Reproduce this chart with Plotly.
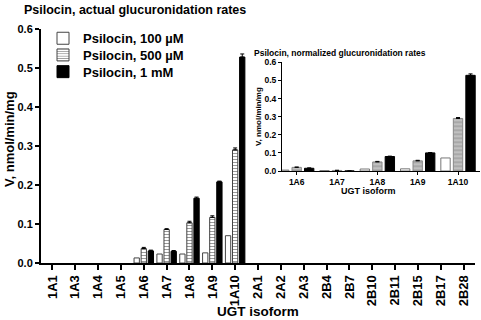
import plotly.graph_objects as go

isoforms = ["1A1", "1A3", "1A4", "1A5", "1A6", "1A7", "1A8", "1A9", "1A10", "2A1", "2A2",
            "2A3", "2B4", "2B7", "2B10", "2B11", "2B15", "2B17", "2B28"]
# None = no measurable activity (no bar drawn)
v100 = [None, None, None, None, 0.013, 0.023, 0.023, 0.026, 0.070, None, None, None, None, None, None, None, None, None, None]
v500 = [None, None, None, None, 0.037, 0.086, 0.103, 0.117, 0.290, None, None, None, None, None, None, None, None, None, None]
v1mM = [None, None, None, None, 0.031, 0.030, 0.166, 0.208, 0.528, None, None, None, None, None, None, None, None, None, None]
e500 = [0, 0, 0, 0, 0.003, 0.002, 0.004, 0.004, 0.005, 0, 0, 0, 0, 0, 0, 0, 0, 0, 0]
e1mM = [0, 0, 0, 0, 0.002, 0.002, 0.003, 0.002, 0.008, 0, 0, 0, 0, 0, 0, 0, 0, 0, 0]

inset_isoforms = ["1A6", "1A7", "1A8", "1A9", "1A10"]
n100 = [0.005, 0.002, 0.011, 0.012, 0.072]
n500 = [0.020, 0.003, 0.050, 0.056, 0.290]
n1mM = [0.015, 0.0, 0.080, 0.100, 0.528]
ne500 = [0.002, 0.001, 0.003, 0.003, 0.005]
ne1mM = [0.002, 0.0, 0.002, 0.002, 0.008]

names = ["Psilocin, 100 \u00b5M", "Psilocin, 500 \u00b5M", "Psilocin, 1 mM"]

FONT = "Liberation Sans, Arial, Helvetica, sans-serif"
W, H = 481, 320
L, R, T, B = 41, 1, 29, 57
pw, ph = W - L - R, H - T - B

def px_x(x):
    return (x - L) / pw

def px_y(y):
    return (H - B - y) / ph

def up_only(arr):
    return dict(type="data", array=arr, arrayminus=[0] * len(arr), symmetric=False,
                color="black", thickness=1, width=2)

fig = go.Figure()

# main chart
fig.add_trace(go.Bar(x=isoforms, y=v100, name=names[0], legend="legend",
                     marker=dict(color="white", line=dict(color="#444", width=1)),
                     xaxis="x", yaxis="y"))
fig.add_trace(go.Bar(x=isoforms, y=v500, name=names[1], legend="legend2",
                     marker=dict(color="white", line=dict(color="#444", width=1),
                                 pattern=dict(shape="-", size=3, solidity=0.35, fgcolor="#333", bgcolor="white")),
                     error_y=up_only(e500), xaxis="x", yaxis="y"))
fig.add_trace(go.Bar(x=isoforms, y=v1mM, name=names[2], legend="legend3",
                     marker=dict(color="black", line=dict(color="black", width=1)),
                     error_y=up_only(e1mM), xaxis="x", yaxis="y"))

# inset chart
fig.add_trace(go.Bar(x=inset_isoforms, y=n100, showlegend=False,
                     marker=dict(color="white", line=dict(color="#777", width=1)),
                     xaxis="x2", yaxis="y2"))
fig.add_trace(go.Bar(x=inset_isoforms, y=n500, showlegend=False,
                     marker=dict(color="#a8a8a8", line=dict(color="#888", width=1),
                                 pattern=dict(shape="-", size=4, solidity=0.35, fgcolor="#ececec", bgcolor="#a8a8a8")),
                     error_y=up_only(ne500), xaxis="x2", yaxis="y2"))
fig.add_trace(go.Bar(x=inset_isoforms, y=n1mM, showlegend=False,
                     marker=dict(color="black", line=dict(color="black", width=1)),
                     error_y=up_only(ne1mM), xaxis="x2", yaxis="y2"))

def leg(yc):
    return dict(x=px_x(43), y=px_y(yc), xanchor="left", yanchor="middle", bgcolor="rgba(0,0,0,0)",
                borderwidth=0, font=dict(size=13, family=FONT, weight="bold"), itemwidth=30)

fig.update_layout(
    width=W, height=H, margin=dict(l=L, r=R, t=T, b=B, autoexpand=False),
    paper_bgcolor="white", plot_bgcolor="rgba(0,0,0,0)",
    font=dict(family=FONT, size=12, color="black", weight="bold"),
    barmode="group", bargap=0.07, bargroupgap=0.25,
    showlegend=True,
    legend=leg(38.3), legend2=leg(55), legend3=leg(71.7),
    xaxis=dict(domain=[0, (475 - L) / pw], type="category", range=[-0.5, 18.5], automargin=False,
               showline=True, linecolor="black", linewidth=2, ticks="outside", ticklen=5, tickwidth=1.5,
               tickcolor="black", tickangle=-90, tickfont=dict(size=13, family=FONT, weight="bold"),
               showgrid=False, zeroline=False, anchor="y"),
    yaxis=dict(domain=[0, 1], range=[0, 0.6], dtick=0.1, tickformat=".1f", automargin=False,
               showline=True, linecolor="black", linewidth=2, ticks="outside", ticklen=4, tickwidth=1.5,
               tickcolor="black", tickfont=dict(size=11, family=FONT, weight="bold"),
               showgrid=False, zeroline=False, anchor="x"),
    xaxis2=dict(domain=[px_x(282), px_x(480)], type="category", range=[-0.364, 4.545], automargin=False,
                showline=True, linecolor="black", linewidth=1, ticks="outside", ticklen=3, tickwidth=1,
                tickcolor="black", tickangle=0, tickfont=dict(size=8.5, family=FONT, weight="bold"),
                showgrid=False, zeroline=False, anchor="y2"),
    yaxis2=dict(domain=[px_y(171), px_y(62.3)], range=[0, 0.6], dtick=0.1, tickformat=".1f", automargin=False,
                showline=True, linecolor="black", linewidth=1, ticks="outside", ticklen=3, tickwidth=1,
                tickcolor="black", tickfont=dict(size=8.5, family=FONT, weight="bold"),
                showgrid=False, zeroline=False, anchor="x2"),
)

annotations = [
    dict(text="Psilocin, actual glucuronidation rates", x=px_x(22), y=px_y(10), xanchor="left", yanchor="middle",
         font=dict(size=12.5)),
    dict(text="V, nmol/min/mg", x=px_x(9), y=px_y(139), xanchor="center", yanchor="middle", textangle=-90,
         font=dict(size=13)),
    dict(text="UGT isoform", x=px_x(258), y=px_y(311), xanchor="center", yanchor="middle", font=dict(size=13.5)),
    dict(text="Psilocin, normalized glucuronidation rates", x=px_x(252), y=px_y(52.7), xanchor="left",
         yanchor="middle", font=dict(size=8.5)),
    dict(text="V, nmol/min/mg", x=px_x(258), y=px_y(117), xanchor="center", yanchor="middle", textangle=-90,
         font=dict(size=8)),
    dict(text="UGT isoform", x=px_x(368), y=px_y(190.7), xanchor="center", yanchor="middle", font=dict(size=9)),
]
for a in annotations:
    a.update(xref="paper", yref="paper", showarrow=False)
    a["font"].update(family=FONT, weight="bold", color="black")
fig.update_layout(annotations=annotations)

fig.write_html("out.html", config={"displayModeBar": False},
               post_script="document.body.style.margin='0';document.body.style.overflow='hidden';")
